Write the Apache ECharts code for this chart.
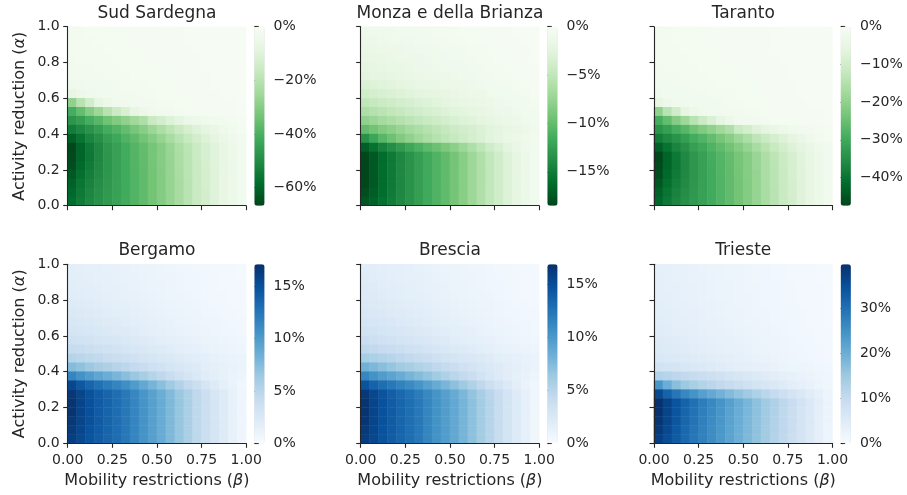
<!DOCTYPE html>
<html><head><meta charset="utf-8">
<script src="https://cdn.jsdelivr.net/npm/echarts@6/dist/echarts.min.js"></script>
<style>html,body{margin:0;padding:0;background:#fff}#c{width:907px;height:495px}</style>
</head><body><div id="c"></div><script>
// ---- DATA ----
const betaCats = ['0.025','0.075','0.125','0.175','0.225','0.275','0.325','0.375','0.425','0.475','0.525','0.575','0.625','0.675','0.725','0.775','0.825','0.875','0.925','0.975'];
const alphaCats = ['0.025','0.075','0.125','0.175','0.225','0.275','0.325','0.375','0.425','0.475','0.525','0.575','0.625','0.675','0.725','0.775','0.825','0.875','0.925','0.975'];
const panelTitles = ['Sud Sardegna','Monza e della Brianza','Taranto','Bergamo','Brescia','Trieste'];
const xTickLabels = ['0.00','0.25','0.50','0.75','1.00'];
const yTickLabels = ['0.0','0.2','0.4','0.6','0.8','1.0'];
// each grid: rows from alpha 0.975 (top) down to alpha 0.025 (bottom); columns beta 0.025 .. 0.975; values in %
const sudSardegna = [
[-1.8,-1.7,-1.6,-1.5,-1.4,-1.3,-1.2,-1.1,-1,-0.9,-0.8,-0.75,-0.7,-0.6,-0.55,-0.5,-0.45,-0.4,-0.35,-0.3],
[-1.9,-1.8,-1.7,-1.6,-1.5,-1.4,-1.3,-1.2,-1.1,-1,-0.9,-0.8,-0.75,-0.65,-0.6,-0.55,-0.5,-0.45,-0.4,-0.3],
[-2,-1.9,-1.8,-1.7,-1.6,-1.5,-1.4,-1.3,-1.2,-1.1,-1,-0.9,-0.8,-0.7,-0.65,-0.6,-0.5,-0.45,-0.4,-0.35],
[-2.1,-2,-1.9,-1.8,-1.7,-1.6,-1.5,-1.4,-1.3,-1.2,-1.1,-1,-0.9,-0.8,-0.7,-0.6,-0.55,-0.5,-0.4,-0.35],
[-2.3,-2.2,-2.1,-2,-1.8,-1.7,-1.6,-1.5,-1.4,-1.3,-1.2,-1.1,-1,-0.85,-0.75,-0.65,-0.6,-0.5,-0.45,-0.4],
[-2.6,-2.5,-2.3,-2.2,-2,-1.9,-1.8,-1.6,-1.5,-1.4,-1.3,-1.2,-1.05,-0.9,-0.8,-0.7,-0.6,-0.55,-0.45,-0.4],
[-3.2,-3,-2.8,-2.6,-2.4,-2.2,-2,-1.8,-1.7,-1.5,-1.4,-1.3,-1.1,-1,-0.85,-0.75,-0.65,-0.55,-0.5,-0.4],
[-6.6,-4.2,-3.5,-3.1,-2.8,-2.6,-2.4,-2.2,-2,-1.8,-1.6,-1.4,-1.2,-1.1,-0.9,-0.8,-0.7,-0.6,-0.5,-0.4],
[-28,-20,-14,-7.7,-4.7,-3.6,-3,-2.6,-2.3,-2.1,-1.9,-1.7,-1.5,-1.3,-1.1,-1,-0.9,-0.8,-0.7,-0.5],
[-41,-36,-30,-25.5,-20,-15.5,-11.6,-7.7,-4.3,-3,-2.6,-2.2,-1.9,-1.6,-1.4,-1.2,-1,-0.9,-0.8,-0.6],
[-47.5,-45,-41,-38,-34,-31,-28,-25,-22,-16,-13.5,-10.6,-8,-5.7,-4.3,-3.5,-2.8,-2.3,-1.9,-1.3],
[-54,-51,-48,-45,-41.4,-39,-36,-32.7,-29.5,-25.7,-22.5,-19,-15.7,-13,-10.2,-8,-5.9,-4,-2.8,-1.6],
[-61,-56.4,-52,-49,-45,-42.7,-39.4,-36.6,-33.5,-30.4,-27,-23.3,-19.6,-16.3,-13.2,-10.6,-8,-5.7,-4,-2.3],
[-66,-60,-55,-51,-47,-44.5,-41.5,-38.5,-36,-33,-30,-26.5,-22.5,-19,-15.5,-12.5,-9.5,-6.7,-4.7,-2.7],
[-65.5,-60,-55.3,-51.2,-47.3,-44.6,-41.6,-38.7,-36.1,-33,-30,-26.6,-22.7,-19.2,-15.6,-12.6,-9.6,-6.8,-4.8,-2.7],
[-64.7,-59,-54.5,-50.8,-47.2,-44.6,-41.7,-38.8,-36.2,-33.2,-30.2,-26.8,-22.9,-19.4,-15.8,-12.8,-9.7,-6.9,-4.9,-2.8],
[-62.7,-57.5,-53.5,-50.3,-47,-44.6,-41.8,-38.9,-36.3,-33.3,-30.3,-26.9,-23,-19.5,-16,-13,-9.8,-7,-5,-2.8],
[-60.7,-56,-52.5,-49.5,-46.7,-44.4,-41.8,-39,-36.4,-33.4,-30.4,-27,-23.2,-19.7,-16.1,-13.1,-9.9,-7.1,-5,-2.9],
[-59.4,-55,-51.7,-49,-46.4,-44.2,-41.7,-39,-36.4,-33.4,-30.4,-27,-23.2,-19.7,-16.2,-13.2,-10,-7.1,-5,-2.9],
[-58,-54.3,-51.2,-48.6,-46.2,-44,-41.6,-38.9,-36.4,-33.4,-30.4,-27,-23.2,-19.7,-16.2,-13.2,-10,-7.1,-5,-2.9]
];
const monzaBrianza = [
[-1.1,-1.02,-0.95,-0.88,-0.81,-0.75,-0.68,-0.63,-0.57,-0.52,-0.46,-0.42,-0.37,-0.33,-0.29,-0.24,-0.21,-0.18,-0.14,-0.11],
[-1.3,-1.21,-1.12,-1.04,-0.96,-0.88,-0.81,-0.74,-0.68,-0.61,-0.55,-0.49,-0.44,-0.39,-0.34,-0.29,-0.25,-0.21,-0.17,-0.13],
[-1.6,-1.49,-1.38,-1.28,-1.18,-1.09,-0.99,-0.91,-0.83,-0.75,-0.67,-0.61,-0.54,-0.48,-0.42,-0.35,-0.3,-0.26,-0.21,-0.16],
[-1.9,-1.77,-1.63,-1.52,-1.41,-1.29,-1.18,-1.08,-0.99,-0.89,-0.8,-0.72,-0.65,-0.57,-0.49,-0.42,-0.36,-0.3,-0.25,-0.19],
[-2.2,-2.05,-1.89,-1.76,-1.63,-1.5,-1.36,-1.25,-1.14,-1.03,-0.92,-0.84,-0.75,-0.66,-0.57,-0.48,-0.42,-0.35,-0.29,-0.22],
[-2.5,-2.33,-2.15,-2,-1.85,-1.7,-1.55,-1.43,-1.3,-1.18,-1.05,-0.95,-0.85,-0.75,-0.65,-0.55,-0.48,-0.4,-0.33,-0.25],
[-3.1,-2.88,-2.67,-2.48,-2.29,-2.11,-1.92,-1.77,-1.61,-1.46,-1.3,-1.18,-1.05,-0.93,-0.81,-0.68,-0.59,-0.5,-0.4,-0.31],
[-3.9,-3.63,-3.35,-3.12,-2.89,-2.65,-2.42,-2.22,-2.03,-1.83,-1.64,-1.48,-1.33,-1.17,-1.01,-0.86,-0.74,-0.62,-0.51,-0.39],
[-5,-4.65,-4.3,-4,-3.7,-3.4,-3.1,-2.85,-2.6,-2.35,-2.1,-1.9,-1.7,-1.5,-1.3,-1.1,-0.95,-0.8,-0.65,-0.5],
[-6.2,-5.77,-5.33,-4.96,-4.59,-4.22,-3.84,-3.53,-3.22,-2.91,-2.6,-2.36,-2.11,-1.86,-1.61,-1.36,-1.18,-0.99,-0.81,-0.62],
[-7.8,-7.25,-6.71,-6.24,-5.77,-5.3,-4.84,-4.45,-4.06,-3.67,-3.28,-2.96,-2.65,-2.34,-2.03,-1.72,-1.48,-1.25,-1.01,-0.78],
[-10,-9.3,-8.6,-8,-7.4,-6.8,-6.2,-5.7,-5.2,-4.7,-4.2,-3.8,-3.4,-3,-2.6,-2.2,-1.9,-1.6,-1.3,-1],
[-13.5,-12,-10.5,-9.5,-8.6,-7.8,-7,-6.3,-5.7,-5.1,-4.6,-4.1,-3.6,-3.1,-2.6,-2.2,-1.8,-1.4,-1,-0.6],
[-17,-15.8,-14.7,-13.7,-12.8,-11.9,-11.1,-10.3,-9.6,-8.8,-8,-7.1,-6.1,-5.1,-4.1,-3.2,-2.4,-1.7,-1.1,-0.7],
[-18.3,-17.3,-16.2,-15.2,-14.2,-13.3,-12.5,-11.7,-10.9,-10.1,-9.2,-8.2,-7.1,-6,-4.9,-3.9,-2.9,-2.1,-1.4,-0.8],
[-18.4,-17.3,-16.2,-15.2,-14.2,-13.3,-12.5,-11.7,-10.9,-10.1,-9.2,-8.2,-7.1,-6,-4.9,-3.9,-2.9,-2.1,-1.4,-0.8],
[-18.4,-17.3,-16.2,-15.2,-14.2,-13.3,-12.5,-11.7,-10.9,-10.1,-9.2,-8.2,-7.1,-6,-4.9,-3.9,-2.9,-2.1,-1.4,-0.8],
[-18.3,-17.3,-16.2,-15.2,-14.2,-13.3,-12.5,-11.7,-10.9,-10.1,-9.2,-8.2,-7.1,-6,-4.9,-3.9,-2.9,-2.1,-1.4,-0.8],
[-18,-17.1,-16.1,-15.1,-14.2,-13.3,-12.5,-11.7,-10.9,-10.1,-9.2,-8.2,-7.1,-6,-4.9,-3.9,-2.9,-2.1,-1.4,-0.8],
[-17.5,-16.8,-15.9,-15,-14.1,-13.3,-12.5,-11.7,-10.9,-10.1,-9.2,-8.2,-7.1,-6,-4.9,-3.9,-2.9,-2.1,-1.4,-0.8]
];
const taranto = [
[-1.3,-1.2,-1.1,-1.1,-1,-0.9,-0.85,-0.8,-0.7,-0.65,-0.6,-0.55,-0.5,-0.45,-0.4,-0.35,-0.3,-0.3,-0.25,-0.2],
[-1.3,-1.2,-1.15,-1.1,-1,-0.95,-0.85,-0.8,-0.7,-0.65,-0.6,-0.55,-0.5,-0.45,-0.4,-0.35,-0.32,-0.3,-0.25,-0.2],
[-1.35,-1.3,-1.2,-1.15,-1.05,-1,-0.9,-0.85,-0.8,-0.7,-0.65,-0.6,-0.55,-0.45,-0.43,-0.4,-0.35,-0.32,-0.3,-0.2],
[-1.4,-1.35,-1.3,-1.2,-1.15,-1.05,-1,-0.9,-0.85,-0.8,-0.7,-0.65,-0.55,-0.5,-0.45,-0.43,-0.35,-0.32,-0.3,-0.25],
[-1.5,-1.4,-1.35,-1.3,-1.2,-1.15,-1.05,-1,-0.9,-0.85,-0.8,-0.7,-0.65,-0.55,-0.5,-0.43,-0.4,-0.35,-0.3,-0.25],
[-1.6,-1.55,-1.5,-1.4,-1.3,-1.2,-1.15,-1.05,-1,-0.9,-0.85,-0.8,-0.7,-0.6,-0.55,-0.45,-0.43,-0.35,-0.32,-0.3],
[-1.85,-1.8,-1.65,-1.55,-1.4,-1.35,-1.3,-1.15,-1.05,-1,-0.9,-0.85,-0.75,-0.65,-0.55,-0.5,-0.43,-0.4,-0.32,-0.3],
[-2.3,-2.1,-2,-1.85,-1.7,-1.55,-1.4,-1.3,-1.2,-1.05,-1,-0.9,-0.8,-0.7,-0.6,-0.55,-0.45,-0.4,-0.35,-0.3],
[-4.7,-3,-2.5,-2.2,-2,-1.85,-1.7,-1.55,-1.4,-1.3,-1.15,-1,-0.85,-0.8,-0.65,-0.55,-0.5,-0.43,-0.35,-0.3],
[-20,-14.2,-10,-5.5,-3.3,-2.6,-2.1,-1.85,-1.65,-1.5,-1.35,-1.2,-1.05,-0.9,-0.8,-0.7,-0.65,-0.55,-0.5,-0.35],
[-29.2,-25.6,-21.4,-18.2,-14.2,-11,-8.3,-5.5,-3.1,-2.1,-1.85,-1.55,-1.35,-1.15,-1,-0.85,-0.7,-0.65,-0.55,-0.45],
[-33.8,-32,-29.2,-27,-24.2,-22,-20,-17.8,-15.7,-11.4,-9.6,-7.5,-5.7,-4.1,-3.1,-2.5,-2,-1.65,-1.35,-0.9],
[-38.4,-36.3,-34.2,-32,-29.5,-27.8,-25.6,-23.3,-21,-18.3,-16,-13.5,-11.2,-9.3,-7.3,-5.7,-4.2,-2.85,-2,-1.15],
[-43.4,-40.2,-37,-34.9,-32,-30.4,-28,-26,-23.9,-21.6,-19.2,-16.6,-14,-11.6,-9.4,-7.5,-5.7,-4.1,-2.85,-1.65],
[-47,-42.7,-39.2,-36.3,-33.5,-31.7,-29.5,-27.4,-25.6,-23.5,-21.4,-18.9,-16,-13.5,-11,-8.9,-6.8,-4.8,-3.35,-1.9],
[-46.6,-42.7,-39.4,-36.5,-33.7,-31.8,-29.6,-27.6,-25.7,-23.5,-21.4,-18.9,-16.2,-13.7,-11.1,-9,-6.8,-4.8,-3.4,-1.9],
[-46,-42,-38.8,-36.2,-33.6,-31.8,-29.7,-27.6,-25.8,-23.6,-21.5,-19.1,-16.3,-13.8,-11.2,-9.1,-6.9,-4.9,-3.5,-2],
[-44.6,-41,-38.1,-35.8,-33.5,-31.8,-29.8,-27.7,-25.8,-23.7,-21.6,-19.2,-16.4,-13.9,-11.4,-9.3,-7,-5,-3.6,-2],
[-43.2,-39.9,-37.4,-35.2,-33.3,-31.6,-29.8,-27.8,-25.9,-23.8,-21.6,-19.2,-16.5,-14,-11.5,-9.3,-7,-5.1,-3.6,-2.1],
[-42.3,-39.2,-36.8,-34.9,-33,-31.5,-29.7,-27.8,-25.9,-23.8,-21.6,-19.2,-16.5,-14,-11.5,-9.4,-7.1,-5.1,-3.6,-2.1]
];
const bergamo = [
[1.7,1.62,1.53,1.45,1.36,1.28,1.19,1.1,1.02,0.94,0.85,0.78,0.71,0.65,0.58,0.51,0.46,0.41,0.36,0.31],
[1.8,1.71,1.62,1.53,1.44,1.35,1.26,1.17,1.08,0.99,0.9,0.83,0.76,0.68,0.61,0.54,0.49,0.43,0.38,0.32],
[1.9,1.8,1.71,1.62,1.52,1.43,1.33,1.24,1.14,1.05,0.95,0.87,0.8,0.72,0.65,0.57,0.51,0.46,0.4,0.34],
[2,1.9,1.8,1.7,1.6,1.5,1.4,1.3,1.2,1.1,1,0.92,0.84,0.76,0.68,0.6,0.54,0.48,0.42,0.36],
[2.2,2.09,1.98,1.87,1.76,1.65,1.54,1.43,1.32,1.21,1.1,1.01,0.92,0.84,0.75,0.66,0.59,0.53,0.46,0.4],
[2.4,2.28,2.16,2.04,1.92,1.8,1.68,1.56,1.44,1.32,1.2,1.1,1.01,0.91,0.82,0.72,0.65,0.58,0.5,0.43],
[2.7,2.57,2.43,2.3,2.16,2.03,1.89,1.76,1.62,1.49,1.35,1.24,1.13,1.03,0.92,0.81,0.73,0.65,0.57,0.49],
[3,2.85,2.7,2.55,2.4,2.25,2.1,1.95,1.8,1.65,1.5,1.38,1.26,1.14,1.02,0.9,0.81,0.72,0.63,0.54],
[3.5,3.33,3.15,2.98,2.8,2.63,2.45,2.28,2.1,1.93,1.75,1.61,1.47,1.33,1.19,1.05,0.95,0.84,0.74,0.63],
[4.2,3.99,3.78,3.57,3.36,3.15,2.94,2.73,2.52,2.31,2.1,1.93,1.76,1.6,1.43,1.26,1.13,1.01,0.88,0.76],
[5.2,4.94,4.68,4.42,4.16,3.9,3.64,3.38,3.12,2.86,2.6,2.39,2.18,1.98,1.77,1.56,1.4,1.25,1.09,0.94],
[7.5,7,6.5,6,5.6,5.2,4.8,4.4,4,3.6,3.3,3,2.7,2.4,2.1,1.8,1.6,1.4,1.2,1],
[11.5,10.6,9.9,9.2,8.6,8,7.3,6.6,5.9,5.2,4.6,4,3.4,2.9,2.4,2,1.7,1.4,1.1,0.9],
[15.6,14.5,13.6,12.9,12.2,11.6,10.9,10,9,8.1,7.2,6.3,5.4,4.5,3.7,2.9,2.2,1.6,1.1,0.7],
[16.6,15.7,14.9,14.2,13.6,13,12.3,11.4,10.4,9.5,8.6,7.6,6.6,5.6,4.6,3.7,2.8,2.1,1.4,0.8],
[16.8,15.8,15,14.3,13.7,13.1,12.4,11.5,10.5,9.6,8.7,7.7,6.7,5.7,4.7,3.8,2.9,2.1,1.4,0.8],
[16.8,15.8,15,14.3,13.7,13.1,12.4,11.5,10.5,9.6,8.7,7.7,6.7,5.7,4.7,3.8,2.9,2.1,1.4,0.8],
[16.6,15.7,15,14.3,13.7,13.1,12.4,11.5,10.5,9.6,8.7,7.7,6.7,5.7,4.7,3.8,2.9,2.1,1.4,0.8],
[16.4,15.6,14.9,14.3,13.7,13.1,12.4,11.5,10.5,9.6,8.7,7.7,6.7,5.7,4.7,3.8,2.9,2.1,1.4,0.8],
[16.2,15.5,14.8,14.2,13.6,13.1,12.4,11.5,10.5,9.6,8.7,7.7,6.7,5.7,4.7,3.8,2.9,2.1,1.4,0.8]
];
const brescia = [
[1.9,1.81,1.71,1.62,1.52,1.43,1.33,1.24,1.14,1.05,0.95,0.87,0.8,0.72,0.65,0.57,0.51,0.46,0.4,0.34],
[2,1.9,1.8,1.7,1.6,1.5,1.4,1.3,1.2,1.1,1,0.92,0.84,0.76,0.68,0.6,0.54,0.48,0.42,0.36],
[2.1,2,1.89,1.79,1.68,1.58,1.47,1.37,1.26,1.16,1.05,0.97,0.88,0.8,0.71,0.63,0.57,0.5,0.44,0.38],
[2.2,2.09,1.98,1.87,1.76,1.65,1.54,1.43,1.32,1.21,1.1,1.01,0.92,0.84,0.75,0.66,0.59,0.53,0.46,0.4],
[2.4,2.28,2.16,2.04,1.92,1.8,1.68,1.56,1.44,1.32,1.2,1.1,1.01,0.91,0.82,0.72,0.65,0.58,0.5,0.43],
[2.6,2.47,2.34,2.21,2.08,1.95,1.82,1.69,1.56,1.43,1.3,1.2,1.09,0.99,0.88,0.78,0.7,0.62,0.55,0.47],
[2.9,2.76,2.61,2.47,2.32,2.18,2.03,1.89,1.74,1.6,1.45,1.33,1.22,1.1,0.99,0.87,0.78,0.7,0.61,0.52],
[3.3,3.14,2.97,2.81,2.64,2.48,2.31,2.15,1.98,1.82,1.65,1.52,1.39,1.25,1.12,0.99,0.89,0.79,0.69,0.59],
[3.8,3.61,3.42,3.23,3.04,2.85,2.66,2.47,2.28,2.09,1.9,1.75,1.6,1.44,1.29,1.14,1.03,0.91,0.8,0.68],
[4.6,4.37,4.14,3.91,3.68,3.45,3.22,2.99,2.76,2.53,2.3,2.12,1.93,1.75,1.56,1.38,1.24,1.1,0.97,0.83],
[5.9,5.6,5.3,5,4.7,4.4,4.1,3.8,3.5,3.2,2.95,2.7,2.5,2.25,2,1.77,1.6,1.42,1.24,1.06],
[8.2,7.7,7.2,6.7,6.2,5.8,5.4,5,4.6,4.2,3.8,3.4,3.1,2.7,2.4,2.1,1.8,1.6,1.3,1.1],
[11.3,10.5,9.8,9.2,8.6,8,7.4,6.8,6.1,5.5,4.9,4.3,3.8,3.2,2.7,2.2,1.8,1.5,1.2,0.9],
[14.6,13.6,12.9,12.2,11.6,11,10.3,9.5,8.7,7.9,7.1,6.3,5.4,4.6,3.7,3,2.3,1.7,1.1,0.6],
[16.4,15.4,14.6,13.9,13.3,12.7,12,11.2,10.3,9.5,8.7,7.8,6.8,5.8,4.8,3.9,3,2.1,1.4,0.7],
[16.6,15.6,14.8,14.1,13.5,12.9,12.2,11.4,10.5,9.7,8.9,8,7,6,5,4,3.1,2.2,1.4,0.7],
[16.6,15.6,14.8,14.1,13.5,12.9,12.2,11.4,10.5,9.7,8.9,8,7,6,5,4,3.1,2.2,1.4,0.7],
[16.5,15.6,14.8,14.1,13.5,12.9,12.2,11.4,10.5,9.7,8.9,8,7,6,5,4,3.1,2.2,1.4,0.7],
[16.3,15.5,14.7,14.1,13.5,12.9,12.2,11.4,10.5,9.7,8.9,8,7,6,5,4,3.1,2.2,1.4,0.7],
[16.1,15.4,14.7,14,13.5,12.9,12.2,11.4,10.5,9.7,8.9,8,7,6,5,4,3.1,2.2,1.4,0.7]
];
const trieste = [
[3.5,3.33,3.15,2.98,2.8,2.63,2.45,2.28,2.1,1.93,1.75,1.61,1.47,1.33,1.19,1.05,0.95,0.84,0.74,0.63],
[3.6,3.42,3.24,3.06,2.88,2.7,2.52,2.34,2.16,1.98,1.8,1.66,1.51,1.37,1.22,1.08,0.97,0.86,0.76,0.65],
[3.7,3.52,3.33,3.15,2.96,2.78,2.59,2.41,2.22,2.04,1.85,1.7,1.55,1.41,1.26,1.11,1,0.89,0.78,0.67],
[3.8,3.61,3.42,3.23,3.04,2.85,2.66,2.47,2.28,2.09,1.9,1.75,1.6,1.44,1.29,1.14,1.03,0.91,0.8,0.68],
[3.9,3.71,3.51,3.32,3.12,2.93,2.73,2.54,2.34,2.15,1.95,1.79,1.64,1.48,1.33,1.17,1.05,0.94,0.82,0.7],
[4.1,3.9,3.69,3.49,3.28,3.08,2.87,2.67,2.46,2.26,2.05,1.89,1.72,1.56,1.39,1.23,1.11,0.98,0.86,0.74],
[4.3,4.09,3.87,3.66,3.44,3.23,3.01,2.8,2.58,2.37,2.15,1.98,1.81,1.63,1.46,1.29,1.16,1.03,0.9,0.77],
[4.6,4.37,4.14,3.91,3.68,3.45,3.22,2.99,2.76,2.53,2.3,2.12,1.93,1.75,1.56,1.38,1.24,1.1,0.97,0.83],
[5,4.75,4.5,4.25,4,3.75,3.5,3.25,3,2.75,2.5,2.3,2.1,1.9,1.7,1.5,1.35,1.2,1.05,0.9],
[5.4,5.13,4.86,4.59,4.32,4.05,3.78,3.51,3.24,2.97,2.7,2.48,2.27,2.05,1.84,1.62,1.46,1.3,1.13,0.97],
[6,5.7,5.4,5.1,4.8,4.5,4.2,3.9,3.6,3.3,3,2.76,2.52,2.28,2.04,1.8,1.62,1.44,1.26,1.08],
[7.5,7.1,6.7,6.3,5.9,5.5,5.1,4.7,4.3,3.9,3.6,3.3,3,2.7,2.4,2.1,1.9,1.7,1.5,1.3],
[12.5,11.8,11,10.3,9.6,9,8.4,7.8,7.2,6.6,6,5.4,4.8,4.2,3.6,3.1,2.6,2.2,1.8,1.5],
[24,20,17,15,13.5,12.3,11.3,10.4,9.6,8.8,8,7.2,6.4,5.6,4.8,4,3.3,2.7,2.1,1.6],
[36,32,29,26.5,24.5,22.5,20.8,19.2,17.6,16,14.5,13,11.5,10,8.6,7.2,5.9,4.6,3.3,2],
[39.5,37,34.5,32,30,28,26.2,24.3,22.3,20.3,18.5,16.6,14.7,12.8,11,9.2,7.4,5.6,3.9,2.2],
[39.5,36.8,34.2,31.7,29.7,27.8,26,24.1,22.1,20.1,18.3,16.5,14.6,12.7,10.9,9.1,7.3,5.5,3.8,2.2],
[39,36.5,34,31.5,29.5,27.6,25.8,24,22,20,18.2,16.4,14.5,12.6,10.8,9,7.2,5.5,3.8,2.2],
[38.3,36,33.6,31.3,29.3,27.5,25.7,23.9,21.9,19.9,18.1,16.3,14.4,12.5,10.7,8.9,7.1,5.4,3.7,2.1],
[37.5,35.4,33.2,31,29.1,27.4,25.6,23.8,21.8,19.8,18,16.2,14.3,12.4,10.6,8.8,7,5.3,3.6,2]
];
const colorbarMin = [-66.7, -18.5, -47.5, 0, 0, 0];
const colorbarMax = [0, 0, 0, 17.1, 16.9, 39.8];
const colorbarTicks = [[0,-20,-40,-60],[0,-5,-10,-15],[0,-10,-20,-30,-40],[0,5,10,15],[0,5,10,15],[0,10,20,30]];

// ---- STYLE / LAYOUT ----
const FONT = 'DejaVu Sans';
const INK = '#262626';
const greens = ['#00441b','#006d2c','#238b45','#41ab5d','#74c476','#a1d99b','#c7e9c0','#e5f5e0','#f7fcf5'];
const blues = ['#f7fbff','#deebf7','#c6dbef','#9ecae1','#6baed6','#4292c6','#2171b5','#08519c','#08306b'];
const panelLeft = [67.7, 360.7, 654];
const panelTop = [26.7, 264.3];
const PW = 178.5, PH = 179;
const CB_OFF = 186.6, CB_W = 10.3;

const panels = [sudSardegna, monzaBrianza, taranto, bergamo, brescia, trieste];
const grids = [], xAxes = [], yAxes = [], series = [], visualMaps = [], titles = [];
const fmtPct = v => (v < 0 ? '\u2212' : '') + Math.abs(v) + '%';
const nameStyle = {color: INK, fontFamily: FONT, fontSize: 16,
  rich: {i: {fontStyle: 'italic', fontFamily: FONT, fontSize: 16, color: INK}}};

panels.forEach((vals, p) => {
  const row = Math.floor(p / 3), col = p % 3;
  const L = panelLeft[col], T = panelTop[row];
  grids.push({left: L, top: T, width: PW, height: PH});
  grids.push({left: L + CB_OFF, top: T, width: CB_W, height: PH});
  const g = 2 * p, gc = 2 * p + 1;
  // x axes
  xAxes.push({type: 'category', gridIndex: g, data: betaCats, show: false, position: 'bottom'});
  xAxes.push({
    type: 'value', gridIndex: g, position: 'bottom', min: 0, max: 1, interval: 0.25, z: 10,
    axisLine: {show: true, onZero: false, lineStyle: {color: INK, width: 1.1}},
    axisTick: {show: true, length: 4.5, lineStyle: {color: INK, width: 1.1}},
    splitLine: {show: false},
    axisLabel: {show: row === 1, margin: 10, color: INK, fontFamily: FONT, fontSize: 14,
      formatter: v => xTickLabels[Math.round(v * 4)]},
    name: row === 1 ? 'Mobility restrictions ({i|β})' : '',
    nameLocation: 'middle', nameGap: 30, nameTextStyle: nameStyle
  });
  xAxes.push({type: 'value', gridIndex: gc, min: 0, max: 1, show: false, position: 'bottom'});
  // y axes
  yAxes.push({type: 'category', gridIndex: g, data: alphaCats, show: false, position: 'left'});
  yAxes.push({
    type: 'value', gridIndex: g, position: 'left', min: 0, max: 1, interval: 0.2, z: 10,
    axisLine: {show: true, onZero: false, lineStyle: {color: INK, width: 1.1}},
    axisTick: {show: true, length: 4.5, lineStyle: {color: INK, width: 1.1}},
    splitLine: {show: false},
    axisLabel: {show: col === 0, margin: 8, color: INK, fontFamily: FONT, fontSize: 14,
      formatter: v => yTickLabels[Math.round(v * 5)]},
    name: col === 0 ? 'Activity reduction ({i|α})' : '',
    nameLocation: 'middle', nameGap: 40, nameTextStyle: nameStyle
  });
  yAxes.push({
    type: 'value', gridIndex: gc, position: 'right', min: colorbarMin[p], max: colorbarMax[p],
    axisLine: {show: false}, splitLine: {show: false},
    axisTick: {show: true, length: 4.5, customValues: colorbarTicks[p], lineStyle: {color: INK, width: 1.1}},
    axisLabel: {show: true, margin: 9, customValues: colorbarTicks[p], color: INK, fontFamily: FONT, fontSize: 14,
      formatter: fmtPct}
  });
  // heatmap data
  const data = [];
  vals.forEach((r, ri) => r.forEach((v, ci) => data.push([ci, vals.length - 1 - ri, v])));
  series.push({
    type: 'heatmap', xAxisIndex: 3 * p, yAxisIndex: 3 * p, data: data,
    progressive: 0, emphasis: {disabled: true}, silent: true
  });
  visualMaps.push({
    type: 'continuous', seriesIndex: p, min: colorbarMin[p], max: colorbarMax[p],
    inRange: {color: p < 3 ? greens : blues},
    orient: 'vertical', left: L + CB_OFF, top: T, itemWidth: CB_W, itemHeight: PH,
    calculable: false, padding: 0, hoverLink: false, text: null
  });
  titles.push({
    text: panelTitles[p], left: L + PW / 2, top: T - 21.8, textAlign: 'center', padding: 0,
    textStyle: {fontFamily: FONT, fontSize: 17, fontWeight: 'normal', color: INK}
  });
});

const chart = echarts.init(document.getElementById('c'), null, {renderer: 'canvas'});
chart.setOption({
  animation: false,
  backgroundColor: '#fff',
  title: titles,
  grid: grids,
  xAxis: xAxes,
  yAxis: yAxes,
  visualMap: visualMaps,
  series: series
});
</script></body></html>
